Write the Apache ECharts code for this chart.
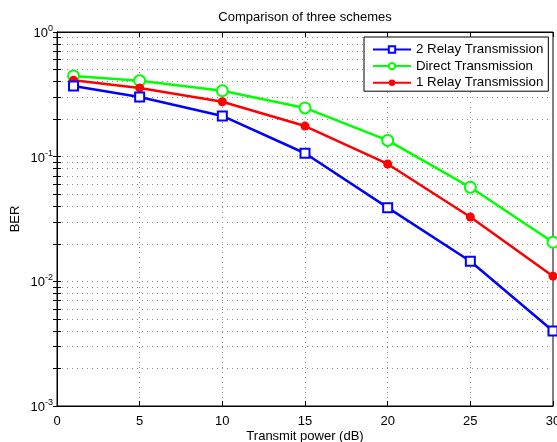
<!DOCTYPE html>
<html>
<head>
<meta charset="utf-8">
<script src="https://cdn.jsdelivr.net/npm/echarts@6/dist/echarts.min.js"></script>
<style>html,body{margin:0;padding:0;background:#fff}#c{width:557px;height:442px}</style>
</head>
<body>
<div id="c"></div>
<script>
var xValues = [1, 5, 10, 15, 20, 25, 30];
var relay2 = [0.369, 0.301, 0.212, 0.1065, 0.039, 0.0145, 0.0040];
var direct = [0.444, 0.407, 0.338, 0.246, 0.135, 0.0568, 0.0206];
var relay1 = [0.410, 0.356, 0.276, 0.176, 0.0874, 0.0328, 0.0110];
var seriesNames = ['2 Relay Transmission', 'Direct Transmission', '1 Relay Transmission'];
var xTicks = [0, 5, 10, 15, 20, 25, 30];
var yLabelTicks = [0.001, 0.01, 0.1, 1];
var yGridTicks = [
  0.001, 0.002, 0.003, 0.004, 0.005, 0.006, 0.007, 0.008, 0.009,
  0.01, 0.02, 0.03, 0.04, 0.05, 0.06, 0.07, 0.08, 0.09,
  0.1, 0.2, 0.3, 0.4, 0.5, 0.6, 0.7, 0.8, 0.9, 1
];
var yMin = 0.001, yMax = 1;

function pairs(vals) { return xValues.map(function (x, i) { return [x, vals[i]]; }); }
var FONT = 'Liberation Sans';
var dotted = { show: true, lineStyle: { color: '#888', type: [1, 4], width: 1 } };

var chart = echarts.init(document.getElementById('c'), null, { renderer: 'canvas' });
chart.setOption({
  animation: false,
  backgroundColor: '#fff',
  textStyle: { fontFamily: FONT },
  title: { text: 'Comparison of three schemes', left: 305, textAlign: 'center', top: 11, padding: 0,
    textStyle: { fontFamily: FONT, fontSize: 13, fontWeight: 'normal', color: '#000' } },
  grid: { left: 57, right: 4, top: 32, bottom: 36, show: true, borderColor: '#000', borderWidth: 1,
    backgroundColor: '#fff', containLabel: false, outerBoundsMode: 'none' },
  legend: {
    orient: 'vertical', left: 364, top: 37,
    data: [
      { name: seriesNames[0], itemStyle: { borderWidth: 1.5 } },
      { name: seriesNames[1], itemStyle: { borderWidth: 2 } },
      { name: seriesNames[2] }
    ],
    backgroundColor: '#fff', borderColor: '#000', borderWidth: 1, borderRadius: 0,
    padding: [5, 5, 1, 8], itemGap: 1.6, itemWidth: 38, itemHeight: 8,
    textStyle: { fontFamily: FONT, fontSize: 13.3, color: '#000', lineHeight: 15 }
  },
  xAxis: [{
    type: 'value', min: 0, max: 30, interval: 5,
    name: 'Transmit power (dB)', nameLocation: 'middle', nameGap: 24, nameMoveOverlap: false,
    nameTextStyle: { fontFamily: FONT, fontSize: 13, color: '#000' },
    axisLine: { show: true, lineStyle: { color: '#000', width: 1 } },
    axisTick: { show: true, inside: true, length: 5, lineStyle: { color: '#000' } },
    axisLabel: { color: '#000', fontSize: 13, fontFamily: FONT, margin: 9,
      formatter: function (v) { return xTicks.indexOf(v) >= 0 ? String(v) : ''; } },
    splitLine: dotted
  }, {
    type: 'value', min: 0, max: 30, interval: 5, position: 'top',
    axisLine: { show: true, lineStyle: { color: '#000' } },
    axisTick: { show: true, inside: true, length: 5, lineStyle: { color: '#000' } },
    axisLabel: { show: false }, splitLine: { show: false }
  }],
  yAxis: [{
    type: 'log', logBase: 10, min: yMin, max: yMax,
    name: 'BER', nameLocation: 'middle', nameGap: 35, nameMoveOverlap: false,
    nameTextStyle: { fontFamily: FONT, fontSize: 13, color: '#000' },
    axisLine: { show: true, lineStyle: { color: '#000', width: 1 } },
    axisTick: { show: true, inside: true, length: 4, customValues: yGridTicks, lineStyle: { color: '#000' } },
    splitLine: dotted,
    axisLabel: {
      color: '#000', margin: 4, customValues: yLabelTicks,
      formatter: function (v) { return '{b|10}{s|' + Math.round(Math.log10(v)) + '}'; },
      rich: {
        b: { fontFamily: FONT, fontSize: 13, color: '#000', verticalAlign: 'bottom', lineHeight: 16 },
        s: { fontFamily: FONT, fontSize: 9, color: '#000', verticalAlign: 'top', lineHeight: 16 }
      }
    }
  }, {
    type: 'log', logBase: 10, min: yMin, max: yMax, position: 'right',
    axisLine: { show: true, lineStyle: { color: '#000' } },
    axisTick: { show: true, inside: true, length: 4, customValues: yGridTicks, lineStyle: { color: '#000' } },
    axisLabel: { show: false }, splitLine: { show: false }
  }],
  series: [{
    name: seriesNames[0], type: 'line', data: pairs(relay2),
    symbol: 'emptyRect', symbolSize: 9, color: '#0000ff',
    lineStyle: { width: 2.5, color: '#0000ff' },
    itemStyle: { color: '#0000ff', borderColor: '#0000ff', borderWidth: 2 }, z: 4
  }, {
    name: seriesNames[1], type: 'line', data: pairs(direct),
    symbol: 'emptyCircle', symbolSize: 11, color: '#00ff00',
    lineStyle: { width: 2.5, color: '#00ff00' },
    itemStyle: { color: '#00ff00', borderColor: '#00ff00', borderWidth: 2 }, z: 3
  }, {
    name: seriesNames[2], type: 'line', data: pairs(relay1),
    symbol: 'circle', symbolSize: 9, color: '#ff0000',
    lineStyle: { width: 2.5, color: '#ff0000' },
    itemStyle: { color: '#ff0000' }, z: 3
  }]
});
</script>
</body>
</html>
